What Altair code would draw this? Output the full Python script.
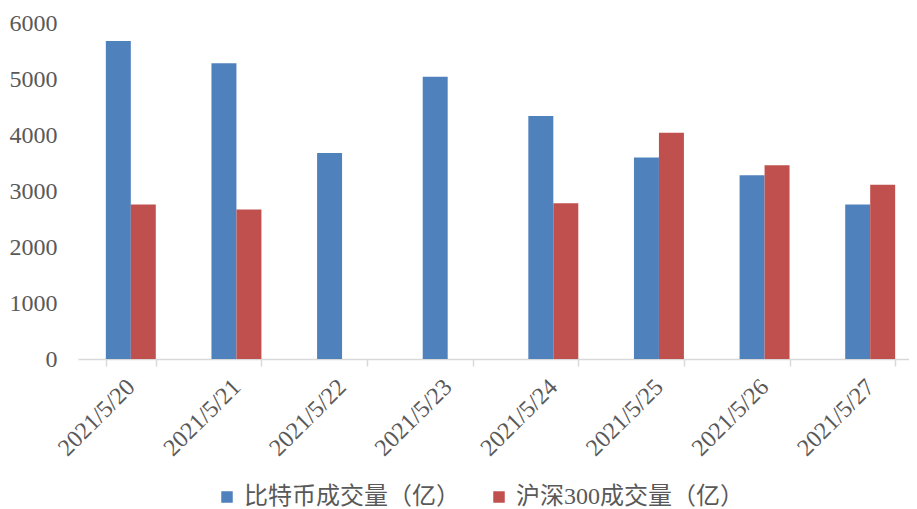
import altair as alt
import pandas as pd

dates = ["2021/5/20", "2021/5/21", "2021/5/22", "2021/5/23",
         "2021/5/24", "2021/5/25", "2021/5/26", "2021/5/27"]
btc_volume = [5680, 5280, 3680, 5040, 4340, 3600, 3280, 2760]
hs300_volume = [2760, 2670, None, None, 2780, 4040, 3460, 3110]
series_names = ["比特币成交量（亿）", "沪深300成交量（亿）"]
series_colors = ["#4F81BD", "#C0504D"]
y_ticks = [0, 1000, 2000, 3000, 4000, 5000, 6000]

rows = []
for d, b, h in zip(dates, btc_volume, hs300_volume):
    rows.append({"date": d, "series": series_names[0], "value": b})
    rows.append({"date": d, "series": series_names[1], "value": h})
df = pd.DataFrame(rows)

FONT = "Liberation Serif, Noto Sans CJK SC"
GREY = "#595959"

chart = alt.Chart(df).mark_bar().encode(
    x=alt.X("date:N", sort=dates, title=None,
            scale=alt.Scale(range=[0, 845], paddingInner=0.527, paddingOuter=0.2635),
            axis=alt.Axis(labelAngle=-45, labelAlign="right", labelBaseline="middle",
                          labelFont=FONT, labelFontSize=24, labelColor=GREY,
                          labelPadding=17, labelLimit=0, domainColor="#d9d9d9", domainWidth=1.5,
                          tickColor="#d9d9d9", tickWidth=1.5, tickSize=7,
                          tickBand="extent", grid=False)),
    xOffset=alt.XOffset("series:N", sort=series_names),
    y=alt.Y("value:Q", title=None,
            scale=alt.Scale(domain=[0, 6000], nice=False),
            axis=alt.Axis(values=y_ticks, format="d", domain=False, ticks=False, grid=False,
                          labelFont=FONT, labelFontSize=24, labelColor=GREY,
                          labelPadding=21)),
    color=alt.Color("series:N", sort=series_names,
                    scale=alt.Scale(domain=series_names, range=series_colors),
                    legend=alt.Legend(title=None, orient="none", direction="horizontal",
                                      legendX=137, legendY=462,
                                      symbolType="square", symbolSize=132,
                                      symbolStrokeWidth=0, labelOffset=5,
                                      columnPadding=27, padding=0, labelLimit=0,
                                      labelFont=FONT, labelFontSize=24,
                                      labelColor=GREY)),
).properties(
    width=831,
    height=336,
    autosize=alt.AutoSizeParams(type="none"),
    padding={"left": 70, "top": 15, "right": 0, "bottom": 150},
).configure_view(stroke=None)

chart.save("out.html", embed_options={"renderer": "svg", "actions": False})
